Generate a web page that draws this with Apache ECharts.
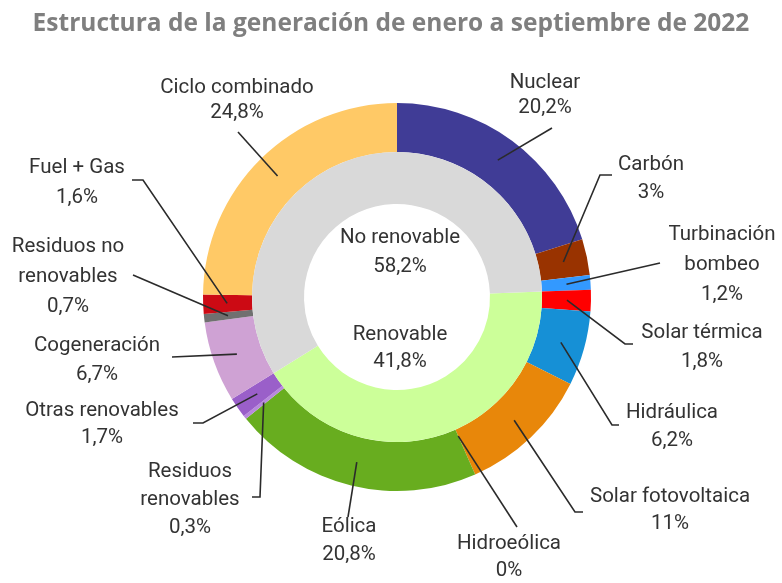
<!DOCTYPE html>
<html><head><meta charset="utf-8">
<script src="https://cdn.jsdelivr.net/npm/echarts@6/dist/echarts.min.js"></script>
<style>html,body{margin:0;padding:0;background:#fff}#c{width:782px;height:583px}</style>
</head><body><div id="c"></div>
<script>
// ---- data ----
const titleText = 'Estructura de la generación de enero a septiembre de 2022';
const sources = ['Nuclear','Carbón','Turbinación bombeo','Solar térmica','Hidráulica','Solar fotovoltaica','Hidroeólica','Eólica','Residuos renovables','Otras renovables','Cogeneración','Residuos no renovables','Fuel + Gas','Ciclo combinado'];
const shares = [20.2, 3, 1.2, 1.8, 6.2, 11, 0, 20.8, 0.3, 1.7, 6.7, 0.7, 1.6, 24.8];
const renewable = [0,0,0,1,1,1,1,1,1,1,0,0,0,0];
const groups = ['Renovable','No renovable'];
const groupShares = [41.8, 58.2];

// ---- styles / layout ----
const colors = ['#403c96','#993300','#3399ff','#ff0000','#1690d6','#e8870a','#e8870a','#68ad1f','#b889dd','#9a5fc9','#cfa2d4','#707070','#cc0a14','#ffc966'];
const groupColors = ['#ccff99','#d9d9d9'];
const CX = 397, CY = 297;
const FONT = 'Roboto';
const FS = 20.5;
// label block centre, line height, guide-line points near label, optional start radius
const layout = {
  'Nuclear':              {x:545, y:95.5, lh:25, text:'Nuclear', pts:[[552,128]]},
  'Carbón':               {x:651, y:179, lh:28, text:'Carbón', pts:[[600,175],[612,175]]},
  'Turbinación bombeo':   {x:722, y:265, lh:30, text:'Turbinación\nbombeo', pts:[[660,263]]},
  'Solar térmica':        {x:702, y:347.5, lh:29, text:'Solar térmica', pts:[[625,344],[633,344]]},
  'Hidráulica':           {x:672, y:427, lh:28, text:'Hidráulica', pts:[[612,425],[619,425]]},
  'Solar fotovoltaica':   {x:670, y:510.5, lh:27, text:'Solar fotovoltaica', pts:[[575,512],[583,512]]},
  'Hidroeólica':          {x:509, y:557.5, lh:27, text:'Hidroeólica', pts:[[517,527]], r:152},
  'Eólica':               {x:349, y:541, lh:28, text:'Eólica', pts:[[348,517]]},
  'Residuos renovables':  {x:190, y:500, lh:28, text:'Residuos\nrenovables', pts:[[260,497],[252,497]]},
  'Otras renovables':     {x:102, y:424.5, lh:27, text:'Otras renovables', pts:[[203,423],[193,423]]},
  'Cogeneración':         {x:97, y:360.5, lh:29, text:'Cogeneración', pts:[[172,357]]},
  'Residuos no renovables':{x:68, y:277, lh:30, text:'Residuos no\nrenovables', pts:[[133,275]]},
  'Fuel + Gas':           {x:77, y:183, lh:30, text:'Fuel + Gas', pts:[[143,180],[132,180]]},
  'Ciclo combinado':      {x:237, y:100.5, lh:25, text:'Ciclo combinado', pts:[[238,132]]}
};
const innerLayout = {
  'No renovable': {x:400, y:252.5, lh:29},
  'Renovable':    {x:400, y:348.5, lh:27}
};

function pct(v){ return String(v).replace('.', ',') + '%'; }

// mid angles (degrees from top, clockwise) computed from the data
const total = shares.reduce((a,b)=>a+b,0);
const midAngles = [];
let acc = 0;
shares.forEach(v => { midAngles.push((acc + v/2) / total * 360); acc += v; });
let before = 0;
for (let i = 0; i < shares.length && !renewable[i]; i++) before += shares[i];
const innerStart = 90 - before / total * 360;

const outerData = sources.map((n, i) => ({ name: n, value: shares[i] }));

const chart = echarts.init(document.getElementById('c'), null, {renderer:'canvas'});
chart.setOption({
  animation: false,
  backgroundColor: '#fff',
  title: {
    text: titleText, left: 'center', top: 7,
    textStyle: {fontFamily: 'Open Sans', fontWeight: 'bold', fontSize: 24.5, color: '#7f7f7f'}
  },
  series: [
    {
      // coloured outer ring
      type: 'pie', center: [CX, CY], radius: [145, 194], startAngle: 90, clockwise: true,
      avoidLabelOverlap: false, silent: true, z: 2,
      data: outerData.map((d, i) => ({ name: d.name, value: d.value, itemStyle: {color: colors[i]} })),
      label: {show: false}, labelLine: {show: false}
    },
    {
      // inner ring
      type: 'pie', center: [CX, CY], radius: [93, 145], startAngle: innerStart, clockwise: true,
      avoidLabelOverlap: false, silent: true, z: 2,
      data: groups.map((n, i) => ({
        name: n, value: groupShares[i], itemStyle: {color: groupColors[i]},
        label: {lineHeight: innerLayout[n].lh}
      })),
      label: {
        show: true, fontFamily: FONT, fontSize: FS, color: '#333333',
        formatter: p => p.name + '\n' + pct(p.value)
      },
      labelLine: {show: false},
      labelLayout: function (p) {
        const L = innerLayout[groups[p.dataIndex]];
        return {x: L.x, y: L.y, align: 'center', verticalAlign: 'middle'};
      }
    },
    {
      // transparent copy of outer ring on top, carrying labels and guide lines
      type: 'pie', center: [CX, CY], radius: [145, 194], startAngle: 90, clockwise: true,
      avoidLabelOverlap: false, silent: true, z: 5,
      data: outerData.map(d => ({
        name: d.name, value: d.value, itemStyle: {color: 'rgba(0,0,0,0)'},
        label: {lineHeight: layout[d.name].lh}
      })),
      label: {
        show: true, position: 'outer', fontFamily: FONT, fontSize: FS, color: '#333333',
        formatter: p => layout[p.name].text + '\n' + pct(p.value)
      },
      labelLine: {show: true, lineStyle: {color: '#2b2b2b', width: 1.6}},
      labelLayout: function (p) {
        const L = layout[sources[p.dataIndex]];
        const r = L.r || 170;
        const a = midAngles[p.dataIndex] * Math.PI / 180;
        const start = [CX + r * Math.sin(a), CY - r * Math.cos(a)];
        return {x: L.x, y: L.y, align: 'center', verticalAlign: 'middle',
                labelLinePoints: [start].concat(L.pts)};
      }
    }
  ]
});
</script>
</body></html>
